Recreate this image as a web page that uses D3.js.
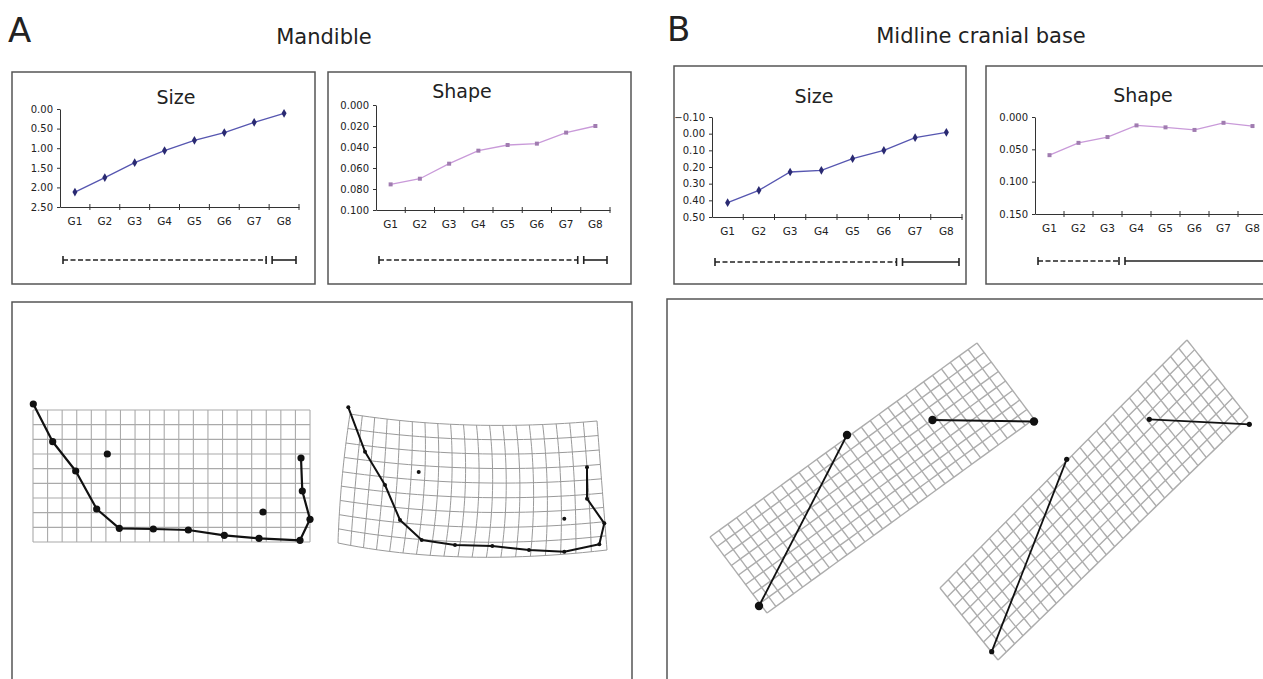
<!DOCTYPE html>
<html>
<head>
<meta charset="utf-8">
<script src="https://cdn.jsdelivr.net/npm/d3@7"></script>
<style>
  body { margin: 0; background: #fff; }
  svg { display: block; font-family: "DejaVu Sans", sans-serif; }
</style>
</head>
<body>
<svg id="fig" width="1263" height="679"></svg>
<script>
// ---- data ----
const groups = ["G1", "G2", "G3", "G4", "G5", "G6", "G7", "G8"];

const mandSize = [2.12, 1.75, 1.37, 1.06, 0.80, 0.60, 0.34, 0.11];
const mandShape = [0.0756, 0.0702, 0.0559, 0.0435, 0.0381, 0.0368, 0.0263, 0.020];
const cranSize = [0.414, 0.34, 0.23, 0.22, 0.15, 0.10, 0.024, -0.008];
const cranShape = [0.059, 0.040, 0.031, 0.013, 0.016, 0.020, 0.009, 0.014];

const mandSizeTicks = [0, 0.5, 1, 1.5, 2, 2.5];
const mandShapeTicks = [0, 0.02, 0.04, 0.06, 0.08, 0.1];
const cranSizeTicks = [-0.1, 0, 0.1, 0.2, 0.3, 0.4, 0.5];
const cranShapeTicks = [0, 0.05, 0.1, 0.15];

// groups that do not differ (dashed) / do differ (solid)
const mandSizeSpans = [["G1", "G7", "dash"], ["G8", "G8", "solid"]];
const mandShapeSpans = [["G1", "G7", "dash"], ["G8", "G8", "solid"]];
const cranSizeSpans = [["G1", "G6", "dash"], ["G7", "G8", "solid"]];
const cranShapeSpans = [["G1", "G3", "dash"], ["G4", "G8", "solid"]];

// landmark configurations (panel-local units)
const mandSizeOutline = [[21.3, 102], [40.7, 139.7], [63.7, 169], [84.7, 207], [107.3, 226.3],
  [141.3, 227], [176.3, 228], [212.3, 233.3], [247, 236.3], [288, 238.3],
  [298, 217.3], [290.3, 189], [289, 156]];
const mandSizeLoose = [[95.3, 152], [251, 210]];
const mandShapeOutline = [[336.3, 105.3], [353, 149.7], [373, 183], [388, 218], [409.7, 238],
  [443, 243], [480.3, 244], [517, 248], [552.3, 249.7], [587.3, 242.3],
  [592.3, 221.3], [575, 196.7], [575, 165.3]];
const mandShapeLoose = [[406.7, 170], [552.3, 216.7]];

const cranSizeLinks = [[[92, 307], [180, 136]], [[265.5, 121], [367, 122.5]]];
const cranShapeLinks = [[[324.7, 352.7], [399.7, 160.3]], [[482.3, 120.3], [582.3, 125.3]]];

// deformation grid control nets (rows of control points, panel-local units)
const mandSizeNet = [[[21, 108], [298, 108]], [[21, 240], [298, 240]]];
const mandShapeNet = [[[338, 112], [458, 123], [585, 119]],
  [[330, 177], [460, 188], [590, 184]],
  [[326, 241], [453, 255], [595, 248]]];
const cranSizeNet = [[[43, 238], [310, 44]], [[100, 314], [367, 120]]];
const cranShapeNet = [[[273, 289], [520, 41]], [[331, 361], [581, 118]]];
const mandCells = [19, 9];
const cranCells = [30, 8];

const svg = d3.select("#fig");
const ink = "#333";

// ---- headings ----
svg.append("text").attr("x", 8).attr("y", 42).attr("font-size", 34).attr("fill", "#222").text("A");
svg.append("text").attr("x", 324).attr("y", 44).attr("font-size", 21).attr("text-anchor", "middle").attr("fill", "#222").text("Mandible");
svg.append("text").attr("x", 667).attr("y", 41).attr("font-size", 34).attr("fill", "#222").text("B");
svg.append("text").attr("x", 981).attr("y", 43).attr("font-size", 21).attr("text-anchor", "middle").attr("fill", "#222").text("Midline cranial base");

// ---- line charts ----
const charts = [
  { box: [12, 72, 303, 212], title: "Size", tx: 176, ty: 104, values: mandSize, ticks: mandSizeTicks,
    fmt: ".2f", domain: [0, 2.5], xr: [60, 299], yr: [109, 207], spans: mandSizeSpans, sy: 260, kind: "size" },
  { box: [328, 72, 303, 212], title: "Shape", tx: 462, ty: 98, values: mandShape, ticks: mandShapeTicks,
    fmt: ".3f", domain: [0, 0.1], xr: [376, 610], yr: [105, 210], spans: mandShapeSpans, sy: 260, kind: "shape" },
  { box: [674, 66, 292, 218], title: "Size", tx: 814, ty: 103, values: cranSize, ticks: cranSizeTicks,
    fmt: ".2f", domain: [-0.1, 0.5], xr: [712, 962], yr: [117, 217], spans: cranSizeSpans, sy: 262, kind: "size" },
  { box: [986, 66, 300, 218], title: "Shape", tx: 1143, ty: 102, values: cranShape, ticks: cranShapeTicks,
    fmt: ".3f", domain: [0, 0.15], xr: [1035, 1267], yr: [117, 214], spans: cranShapeSpans, sy: 261, kind: "shape" }
];

charts.forEach(c => {
  const g = svg.append("g");
  g.append("rect")
    .attr("x", c.box[0]).attr("y", c.box[1]).attr("width", c.box[2]).attr("height", c.box[3])
    .attr("fill", "none").attr("stroke", "#555").attr("stroke-width", 1.5);

  g.append("text").attr("x", c.tx).attr("y", c.ty).attr("text-anchor", "middle")
    .attr("font-size", 19).attr("fill", "#222").text(c.title);

  const x = d3.scaleBand().domain(groups).range(c.xr);
  const y = d3.scaleLinear().domain(c.domain).range(c.yr);

  // y axis
  const ya = g.append("g").attr("transform", `translate(${c.xr[0]},0)`)
    .call(d3.axisLeft(y).tickValues(c.ticks).tickFormat(d3.format(c.fmt)).tickSize(3).tickSizeOuter(0).tickPadding(4));
  ya.select(".domain").attr("stroke", ink);
  ya.selectAll(".tick line").attr("stroke", ink);
  ya.selectAll("text").attr("font-size", 10).attr("fill", "#222").attr("font-family", "DejaVu Sans");

  // x axis (labels centred in bands, ticks on band edges)
  const xa = g.append("g").attr("transform", `translate(0,${c.yr[1]})`)
    .call(d3.axisBottom(x).tickSize(0).tickPadding(11).tickSizeOuter(0));
  xa.select(".domain").attr("stroke", ink);
  xa.selectAll("text").attr("font-size", 10.5).attr("fill", "#222").attr("font-family", "DejaVu Sans");
  g.selectAll(".xedge")
    .data(groups.slice(1).concat(["end"]))
    .join("line")
    .attr("x1", d => d === "end" ? c.xr[1] : x(d))
    .attr("x2", d => d === "end" ? c.xr[1] : x(d))
    .attr("y1", c.yr[1] - 3).attr("y2", c.yr[1] + 3)
    .attr("stroke", ink);

  const pts = groups.map((gname, i) => ({ g: gname, v: c.values[i] }));
  const cx = d => x(d.g) + x.bandwidth() / 2;
  const line = d3.line().x(cx).y(d => y(d.v));
  const isSize = c.kind === "size";

  g.append("path").datum(pts)
    .attr("d", line).attr("fill", "none")
    .attr("stroke", isSize ? "#5656b0" : "#c99ad9").attr("stroke-width", 1.3);

  g.selectAll(".mk").data(pts).join("path")
    .attr("transform", d => `translate(${cx(d)},${y(d.v)})`)
    .attr("d", d3.symbol(isSize ? d3.symbolDiamond : d3.symbolSquare).size(isSize ? 22 : 16))
    .attr("fill", isSize ? "#2a2a72" : "#a07cb0");

  // significance bars
  c.spans.forEach(s => {
    const a = x(s[0]) + 3;
    const b = x(s[1]) + x.bandwidth() - 3;
    g.append("line").attr("x1", a).attr("x2", b).attr("y1", c.sy).attr("y2", c.sy)
      .attr("stroke", "#222").attr("stroke-width", 1.6)
      .attr("stroke-dasharray", s[2] === "dash" ? "5,2.5" : null);
    [a, b].forEach(px => g.append("line")
      .attr("x1", px).attr("x2", px).attr("y1", c.sy - 4).attr("y2", c.sy + 4)
      .attr("stroke", "#222").attr("stroke-width", 1.6));
  });
});

// ---- deformation grid panels ----
const panels = [
  { rect: [12, 302, 620, 420], x: d3.scaleLinear().domain([0, 620]).range([12, 632]),
    y: d3.scaleLinear().domain([0, 377]).range([302, 679]) },
  { rect: [667, 299, 620, 420], x: d3.scaleLinear().domain([0, 596]).range([667, 1263]),
    y: d3.scaleLinear().domain([0, 380]).range([299, 679]) }
];
panels.forEach(p => svg.append("rect")
  .attr("x", p.rect[0]).attr("y", p.rect[1]).attr("width", p.rect[2]).attr("height", p.rect[3])
  .attr("fill", "none").attr("stroke", "#555").attr("stroke-width", 1.5));

// map (u,v) in [0,1]^2 through a 2x2 (bilinear) or 3x3 (quadratic) control net
function warp(net, u, v) {
  const n = net.length;
  const basis = n === 2
    ? t => [1 - t, t]
    : t => [2 * (t - 0.5) * (t - 1), -4 * t * (t - 1), 2 * t * (t - 0.5)];
  const bu = basis(u), bv = basis(v);
  let px = 0, py = 0;
  for (let r = 0; r < n; r++) for (let k = 0; k < n; k++) {
    px += bv[r] * bu[k] * net[r][k][0];
    py += bv[r] * bu[k] * net[r][k][1];
  }
  return [px, py];
}

function drawGrid(panel, net, cells, stroke, sw) {
  const line = d3.line().x(d => panel.x(d[0])).y(d => panel.y(d[1]));
  const steps = 24;
  const g = svg.append("g").attr("fill", "none").attr("stroke", stroke).attr("stroke-width", sw);
  for (let i = 0; i <= cells[0]; i++) {
    const u = i / cells[0];
    g.append("path").attr("d", line(d3.range(steps + 1).map(j => warp(net, u, j / steps))));
  }
  for (let i = 0; i <= cells[1]; i++) {
    const v = i / cells[1];
    g.append("path").attr("d", line(d3.range(steps + 1).map(j => warp(net, j / steps, v))));
  }
}

function drawOutline(panel, outline, loose, r, sw) {
  const line = d3.line().x(d => panel.x(d[0])).y(d => panel.y(d[1]));
  svg.append("path").attr("d", line(outline)).attr("fill", "none")
    .attr("stroke", "#111").attr("stroke-width", sw).attr("stroke-linejoin", "round");
  svg.selectAll(null).data(outline.concat(loose)).join("circle")
    .attr("cx", d => panel.x(d[0])).attr("cy", d => panel.y(d[1])).attr("r", r).attr("fill", "#111");
}

function drawLinks(panel, links, r, sw) {
  links.forEach(l => {
    svg.append("line")
      .attr("x1", panel.x(l[0][0])).attr("y1", panel.y(l[0][1]))
      .attr("x2", panel.x(l[1][0])).attr("y2", panel.y(l[1][1]))
      .attr("stroke", "#111").attr("stroke-width", sw);
    l.forEach(d => svg.append("circle")
      .attr("cx", panel.x(d[0])).attr("cy", panel.y(d[1])).attr("r", r).attr("fill", "#111"));
  });
}

drawGrid(panels[0], mandSizeNet, mandCells, "#aaa", 1.1);
drawGrid(panels[0], mandShapeNet, mandCells, "#9a9a9a", 1);
drawOutline(panels[0], mandSizeOutline, mandSizeLoose, 3.6, 2.2);
drawOutline(panels[0], mandShapeOutline, mandShapeLoose, 2, 2);

drawGrid(panels[1], cranSizeNet, cranCells, "#adadad", 1.4);
drawGrid(panels[1], cranShapeNet, cranCells, "#adadad", 1.4);
drawLinks(panels[1], cranSizeLinks, 4.2, 1.8);
drawLinks(panels[1], cranShapeLinks, 2.6, 1.8);
</script>
</body>
</html>
